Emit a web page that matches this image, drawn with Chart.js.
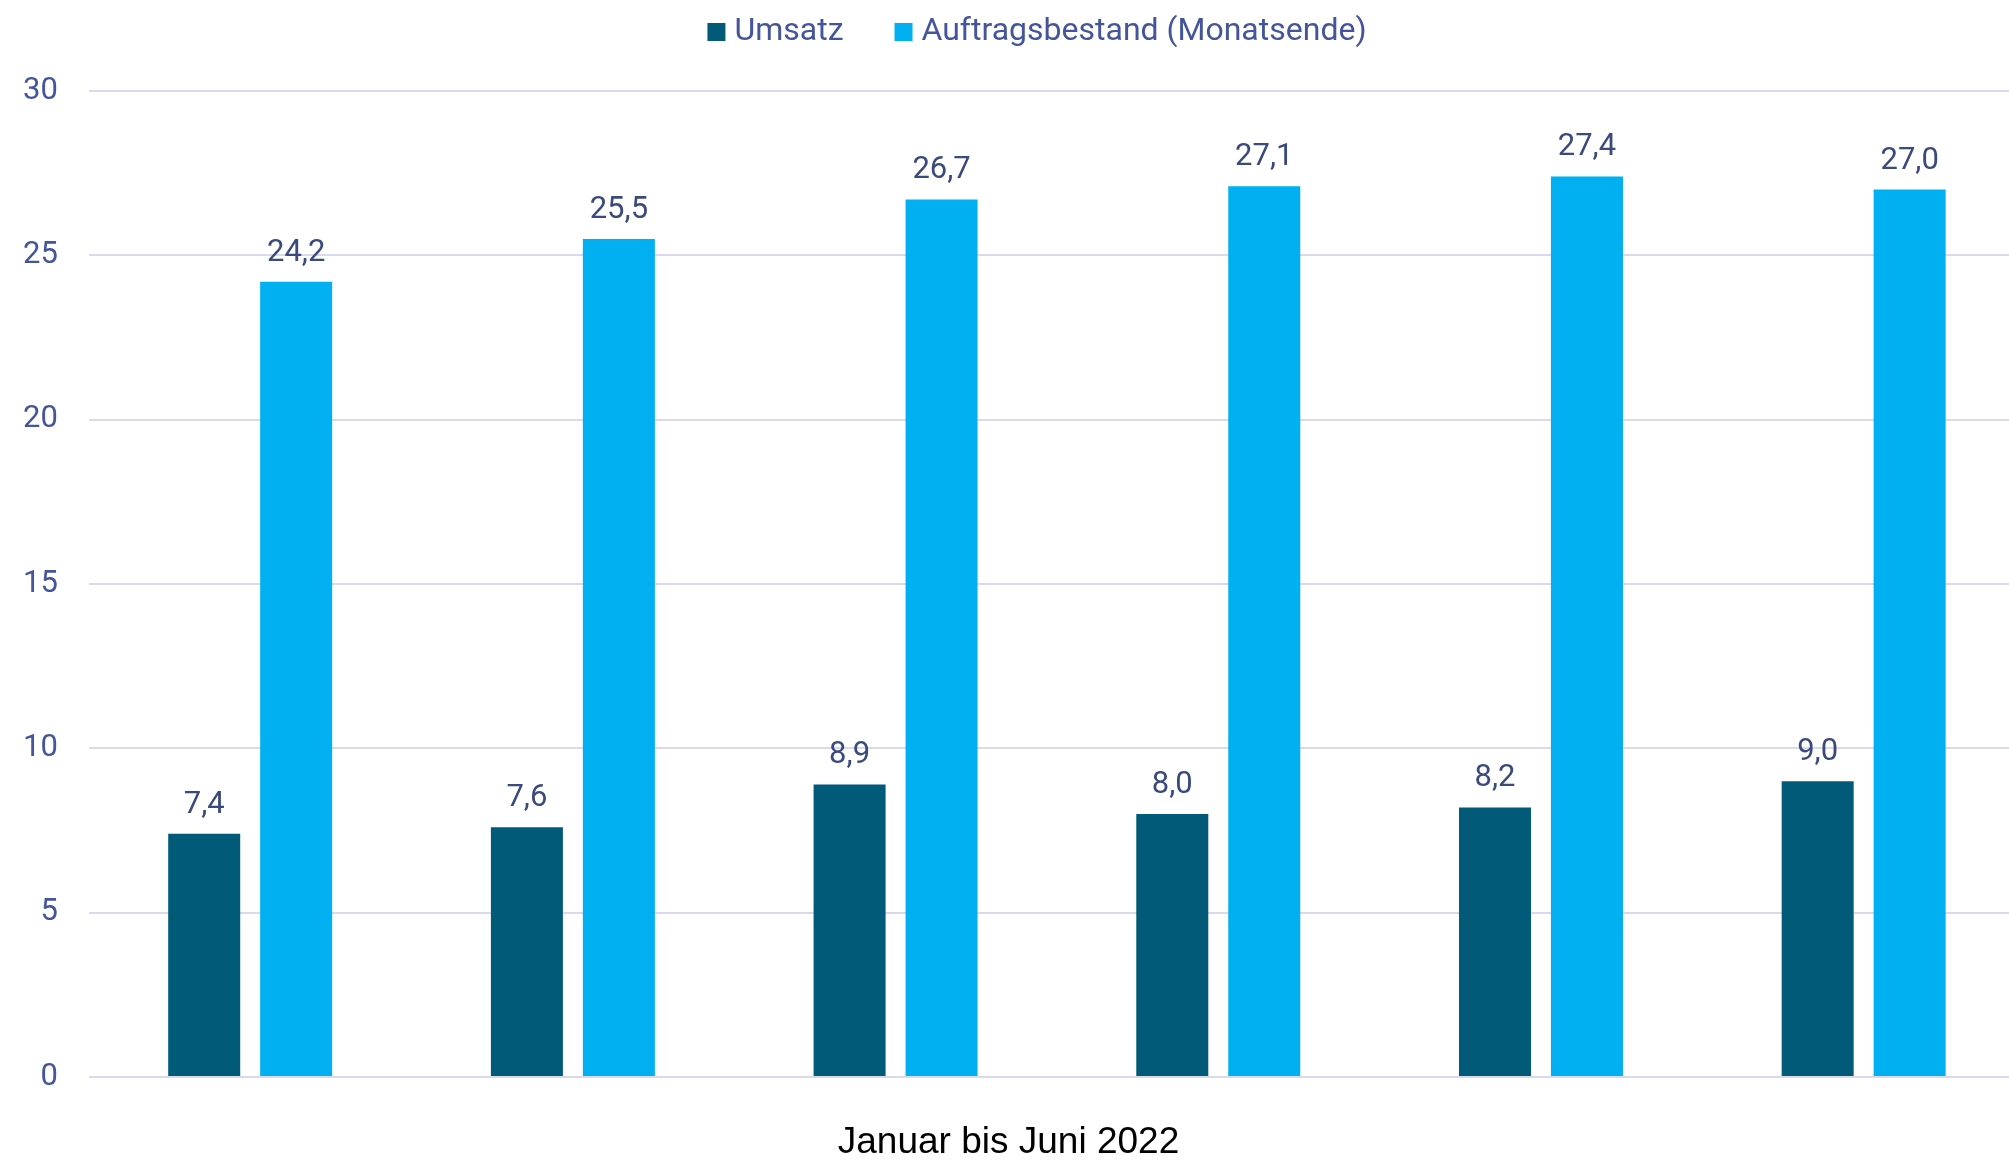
<!DOCTYPE html>
<html>
<head>
<meta charset="utf-8">
<script src="https://cdn.jsdelivr.net/npm/chart.js@4.4.1/dist/chart.umd.min.js"></script>
<style>
html,body{margin:0;padding:0;overflow:hidden;background:#ffffff;width:2009px;height:1161px}
#wrap{width:2009px;height:1161px;position:relative;overflow:hidden}
#c{position:absolute;left:-8px;top:0}
</style>
</head>
<body>
<div id="wrap"><canvas id="c" width="2034" height="1161"></canvas></div>
<script>
// ---- data ----
const categories = ['Januar', 'Februar', 'März', 'April', 'Mai', 'Juni'];
const seriesNames = ['Umsatz', 'Auftragsbestand (Monatsende)'];
const umsatz = [7.4, 7.6, 8.9, 8.0, 8.2, 9.0];
const auftragsbestand = [24.2, 25.5, 26.7, 27.1, 27.4, 27.0];
const yTicks = [0, 5, 10, 15, 20, 25, 30];
const xTitle = 'Januar bis Juni 2022';

// ---- styles ----
const COLOR_DARK = '#005a78';
const COLOR_LIGHT = '#00b0f0';
const AXIS_TEXT = '#44559b';
const LABEL_TEXT = '#3b4a7e';
const GRID = '#d8d9eb';

const fmt = v => v.toFixed(1).replace('.', ',');

const barLabels = {
  id: 'barLabels',
  afterDatasetsDraw(chart) {
    const ctx = chart.ctx;
    ctx.save();
    ctx.font = '31px Roboto';
    ctx.fillStyle = LABEL_TEXT;
    ctx.textAlign = 'center';
    ctx.textBaseline = 'alphabetic';
    chart.data.datasets.forEach((ds, i) => {
      chart.getDatasetMeta(i).data.forEach((bar, j) => {
        ctx.fillText(fmt(ds.data[j]), bar.x, bar.y - 21);
      });
    });
    ctx.restore();
  }
};

const legendShift = {
  id: 'legendShift',
  afterLayout(chart) {
    const lg = chart.legend;
    if (!lg) return;
    lg.top = -42;
    lg.left += 32;
    lg.right += 32;
  }
};

new Chart(document.getElementById('c'), {
  type: 'bar',
  data: {
    labels: categories,
    datasets: [
      { label: seriesNames[0], data: umsatz, backgroundColor: COLOR_DARK },
      { label: seriesNames[1], data: auftragsbestand, backgroundColor: COLOR_LIGHT }
    ]
  },
  options: {
    responsive: false,
    animation: false,
    devicePixelRatio: 1,
    categoryPercentage: 0.57,
    barPercentage: 0.783,
    layout: { padding: { left: 0, right: 1, top: -9, bottom: 0 } },
    scales: {
      x: { display: false },
      y: {
        min: 0, max: 30,
        afterBuildTicks: s => { s.ticks = yTicks.map(v => ({ value: v })); },
        border: { display: false },
        grid: { color: GRID, lineWidth: 2, drawTicks: false },
        ticks: {
          padding: 31,
          color: AXIS_TEXT,
          font: { family: 'Roboto', size: 31 },
          callback: v => String(v)
        }
      }
    },
    plugins: {
      legend: {
        position: 'top',
        labels: {
          boxWidth: 4, boxHeight: 4, padding: 58,
          color: AXIS_TEXT,
          font: { family: 'Roboto', size: 32 },
          generateLabels: chart =>
            Chart.defaults.plugins.legend.labels.generateLabels(chart).map(l =>
              Object.assign(l, { lineWidth: 14, strokeStyle: l.fillStyle }))
        }
      },
      title: {
        display: true,
        position: 'bottom',
        text: xTitle,
        color: '#000000',
        font: { family: 'Liberation Sans', size: 37, weight: 'normal', lineHeight: 1 },
        padding: { top: 47, bottom: 0 }
      },
      tooltip: { enabled: false }
    }
  },
  plugins: [barLabels, legendShift]
});
</script>
</body>
</html>
